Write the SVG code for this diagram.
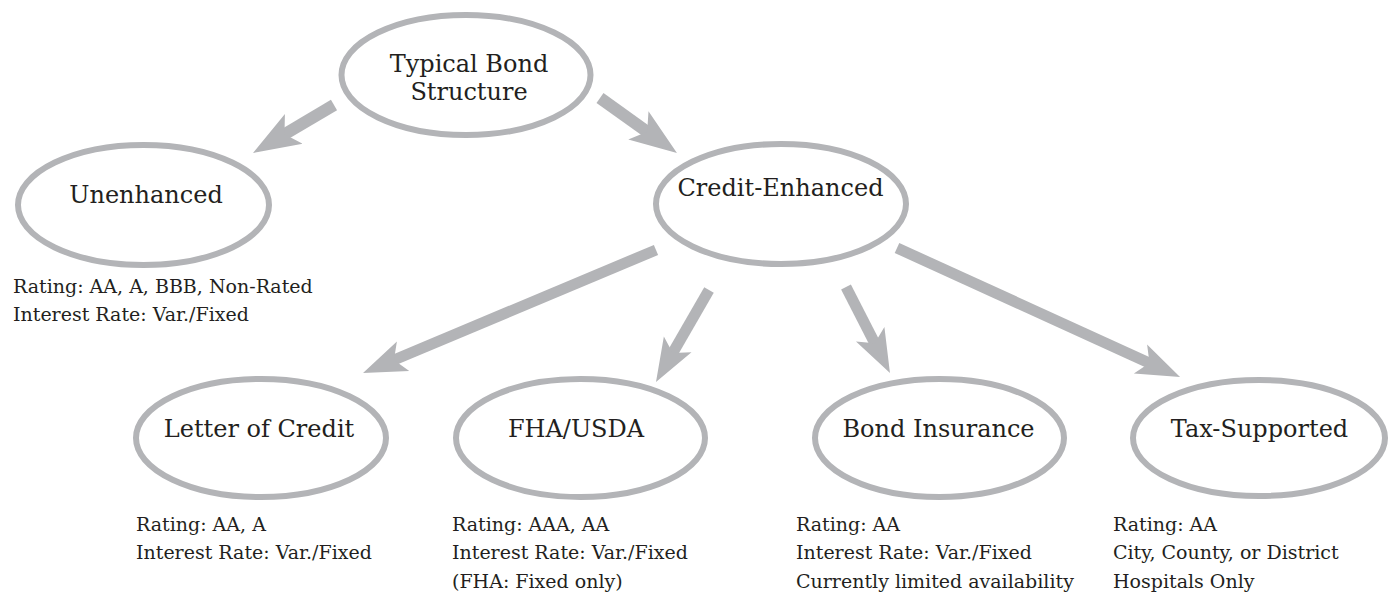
<svg xmlns="http://www.w3.org/2000/svg" width="1391" height="593" viewBox="0 0 1391 593">
<style>
.node{fill:#fff;stroke:#b3b4b7;stroke-width:6}
.lbl{font-family:"DejaVu Serif","Liberation Serif",serif;font-size:24px;fill:#231f20;text-anchor:middle}
.info{font-family:"DejaVu Serif","Liberation Serif",serif;font-size:19px;fill:#231f20}
.arr{stroke:#b3b4b7;fill:none;stroke-linecap:butt;marker-end:url(#head)}
</style>
<defs>
<marker id="head" viewBox="0 -2 5 4" markerWidth="5" markerHeight="4" refX="1.2" refY="0" orient="auto" markerUnits="strokeWidth">
<path d="M0,-1.45 L3.95,0 L0,1.45 L0.9,0 Z" fill="#b3b4b7"/>
</marker>
</defs>
<g id="connectors">
<line class="arr" x1="334" y1="105" x2="281.4" y2="136.2" stroke-width="12"/>
<line class="arr" x1="600" y1="98" x2="650.1" y2="133.8" stroke-width="12"/>
<line class="arr" x1="656" y1="250" x2="390.9" y2="361.3" stroke-width="11"/>
<line class="arr" x1="709" y1="290" x2="671.1" y2="355.8" stroke-width="11"/>
<line class="arr" x1="846" y1="287" x2="876.2" y2="346.1" stroke-width="11"/>
<line class="arr" x1="897" y1="248" x2="1152.5" y2="364.4" stroke-width="11"/>
</g>
<g id="typical">
<ellipse class="node" cx="466" cy="75" rx="124.5" ry="60"/>
<text class="lbl" x="469" y="72">Typical Bond</text>
<text class="lbl" x="469" y="100">Structure</text>
</g>
<g id="unenhanced">
<ellipse class="node" cx="143.5" cy="205" rx="125.5" ry="60"/>
<text class="lbl" x="146" y="203">Unenhanced</text>
<text class="info" x="13" y="293">Rating: AA, A, BBB, Non-Rated</text>
<text class="info" x="13" y="321">Interest Rate: Var./Fixed</text>
</g>
<g id="credit-enhanced">
<ellipse class="node" cx="781" cy="204" rx="125" ry="60"/>
<text class="lbl" x="780.5" y="196">Credit-Enhanced</text>
</g>
<g id="letter-of-credit">
<ellipse class="node" cx="261" cy="438" rx="125" ry="59"/>
<text class="lbl" x="259" y="437">Letter of Credit</text>
<text class="info" x="136" y="531">Rating: AA, A</text>
<text class="info" x="136" y="559">Interest Rate: Var./Fixed</text>
</g>
<g id="fha-usda">
<ellipse class="node" cx="580.5" cy="438" rx="124.5" ry="59"/>
<text class="lbl" x="576" y="437">FHA/USDA</text>
<text class="info" x="452" y="531">Rating: AAA, AA</text>
<text class="info" x="452" y="559">Interest Rate: Var./Fixed</text>
<text class="info" x="452" y="588">(FHA: Fixed only)</text>
</g>
<g id="bond-insurance">
<ellipse class="node" cx="939.5" cy="438" rx="124.5" ry="59"/>
<text class="lbl" x="938.5" y="437">Bond Insurance</text>
<text class="info" x="796" y="531">Rating: AA</text>
<text class="info" x="796" y="559">Interest Rate: Var./Fixed</text>
<text class="info" x="796" y="588">Currently limited availability</text>
</g>
<g id="tax-supported">
<ellipse class="node" cx="1259" cy="438" rx="126" ry="58"/>
<text class="lbl" x="1259.5" y="437">Tax-Supported</text>
<text class="info" x="1113" y="531">Rating: AA</text>
<text class="info" x="1113" y="559">City, County, or District</text>
<text class="info" x="1113" y="588">Hospitals Only</text>
</g>
</svg>
